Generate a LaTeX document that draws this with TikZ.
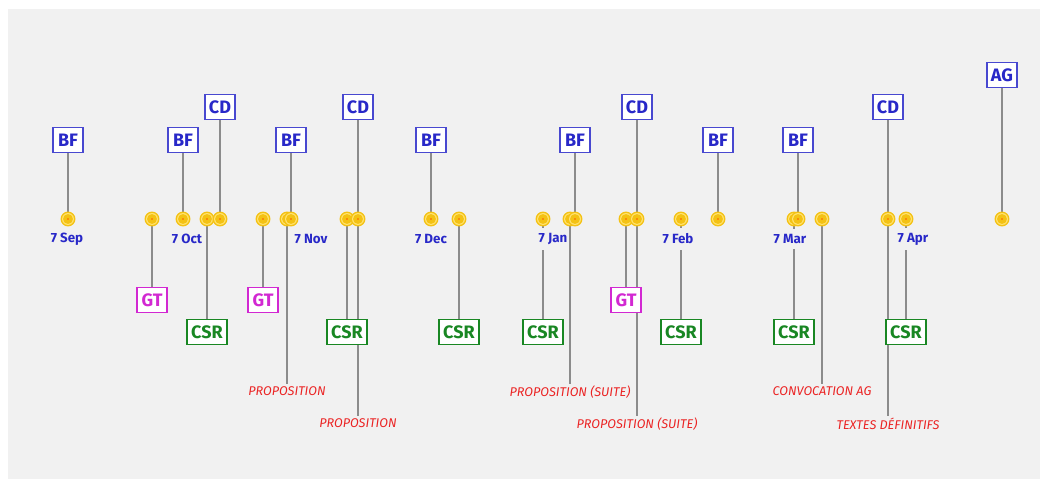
\documentclass[tikz,border=0pt]{standalone}
\usepackage{fontspec}
\setmainfont{Fira Sans}
\pgfdeclarelayer{panel}
\pgfdeclarelayer{wires}
\pgfsetlayers{panel,wires,main}

\definecolor{panelgray}{RGB}{241,241,241}
\definecolor{evblue}{RGB}{40,40,200}
\definecolor{evmag}{RGB}{210,40,210}
\definecolor{evgreen}{RGB}{25,135,35}
\definecolor{evred}{RGB}{235,35,35}
\definecolor{evgold}{RGB}{244,194,20}
\definecolor{evring}{RGB}{255,226,110}
\definecolor{wiregray}{RGB}{140,140,140}

\tikzset{every picture/.style={line width=0.75pt}}
\tikzset{
  evbox/.style={draw, fill=white, line width=0.9pt, inner sep=0pt,
    minimum width=22.5pt, minimum height=19pt,
    font=\bfseries\fontsize{13.5}{15}\selectfont},
  bluebox/.style={evbox, draw=evblue!85, text=evblue},
  gtbox/.style={evbox, draw=evmag, text=evmag},
  csrbox/.style={evbox, draw=evgreen, text=evgreen, minimum width=30pt},
  datelbl/.style={fill=panelgray, inner xsep=0.3pt, inner ysep=4pt, text=evblue,
    font=\bfseries\fontsize{10}{11}\selectfont},
  redlbl/.style={anchor=north, inner sep=1.5pt, text=evred,
    font=\itshape\fontsize{9.5}{10}\selectfont},
  wire/.style={draw=wiregray, line width=1.1pt},
  evdot/.pic={
    \fill[evgold] (0,0) circle (5.6pt);
    \fill[evring] (0,0) circle (4.5pt);
    \fill[evgold] (0,0) circle (3.7pt);
    \fill[orange!70!red] (0,0) circle (0.6pt);
  }
}

\begin{document}
\begin{tikzpicture}[x=0.75pt,y=0.75pt,yscale=-1,xscale=1]
	\useasboundingbox (0,0) rectangle (1047,488);
	\begin{pgfonlayer}{panel}
		\fill[panelgray] (8,9) rectangle (1040,479);
	\end{pgfonlayer}
	
	% points on the time line
	\coordinate (sep) at (68,219);
	\coordinate (gt1) at (152,219);
	\coordinate (oct) at (183,219);
	\coordinate (csr1) at (207,219);
	\coordinate (cd1) at (220,219);
	\coordinate (gt2) at (263,219);
	\coordinate (prop1) at (287,219);
	\coordinate (bf3) at (291,219);
	\coordinate (csr2) at (347,219);
	\coordinate (cd2) at (358,219);
	\coordinate (dec) at (431,219);
	\coordinate (csr3) at (459,219);
	\coordinate (jan) at (543,219);
	\coordinate (prop3) at (570,219);
	\coordinate (bf5) at (575,219);
	\coordinate (gt3) at (626,219);
	\coordinate (cd3) at (637,219);
	\coordinate (feb) at (681,219);
	\coordinate (bf6) at (718,219);
	\coordinate (csr6) at (794,219);
	\coordinate (bf7) at (798,219);
	\coordinate (conv) at (822,219);
	\coordinate (cd4) at (888,219);
	\coordinate (apr) at (906,219);
	\coordinate (ag) at (1002,219);
	
	% boxes above
	\node[bluebox] (bfa) at (68,140) {BF};
	\node[bluebox] (bfb) at (183,140) {BF};
	\node[bluebox] (cda) at (220,107) {CD};
	\node[bluebox] (bfc) at (291,140) {BF};
	\node[bluebox] (cdb) at (358,107) {CD};
	\node[bluebox] (bfd) at (431,140) {BF};
	\node[bluebox] (bfe) at (575,140) {BF};
	\node[bluebox] (cdc) at (637,107) {CD};
	\node[bluebox] (bff) at (718,140) {BF};
	\node[bluebox] (bfg) at (798,140) {BF};
	\node[bluebox] (cdd) at (888,107) {CD};
	\node[bluebox] (aga) at (1002,75) {AG};
	
	% boxes below
	\node[gtbox] (gta) at (152,300) {GT};
	\node[gtbox] (gtb) at (263,300) {GT};
	\node[gtbox] (gtc) at (626,300) {GT};
	\node[csrbox] (csra) at (207,332) {CSR};
	\node[csrbox] (csrb) at (347,332) {CSR};
	\node[csrbox] (csrc) at (459,332) {CSR};
	\node[csrbox] (csrd) at (543,332) {CSR};
	\node[csrbox] (csre) at (681,332) {CSR};
	\node[csrbox] (csrf) at (794,332) {CSR};
	\node[csrbox] (csrg) at (906,332) {CSR};
	
	% documents
	\node[redlbl] (propa) at (287,384) {PROPOSITION};
	\node[redlbl] (propb) at (358,416) {PROPOSITION};
	\node[redlbl] (propc) at (570,384) {PROPOSITION (SUITE)};
	\node[redlbl] (propd) at (637,416) {PROPOSITION (SUITE)};
	\node[redlbl] (conva) at (822,384) {CONVOCATION AG};
	\node[redlbl] (textes) at (888,416) {TEXTES DÉFINITIFS};
	
	\begin{pgfonlayer}{wires}
		%lines up
		\draw[wire] (bfa) -- (sep);
		\draw[wire] (bfb) -- (oct);
		\draw[wire] (cda) -- (cd1);
		\draw[wire] (bfc) -- (bf3);
		\draw[wire] (cdb) -- (cd2);
		\draw[wire] (bfd) -- (dec);
		\draw[wire] (bfe) -- (bf5);
		\draw[wire] (cdc) -- (cd3);
		\draw[wire] (bff) -- (bf6);
		\draw[wire] (bfg) -- (bf7);
		\draw[wire] (cdd) -- (cd4);
		\draw[wire] (aga) -- (ag);
		%lines down
		\draw[wire] (gt1) -- (gta);
		\draw[wire] (gt2) -- (gtb);
		\draw[wire] (gt3) -- (gtc);
		\draw[wire] (csr1) -- (csra);
		\draw[wire] (csr2) -- (csrb);
		\draw[wire] (csr3) -- (csrc);
		\draw[wire] (jan) -- (csrd);
		\draw[wire] (feb) -- (csre);
		\draw[wire] (csr6) -- (csrf);
		\draw[wire] (apr) -- (csrg);
		\draw[wire] (prop1) -- (propa);
		\draw[wire] (cd2) -- (propb);
		\draw[wire] (prop3) -- (propc);
		\draw[wire] (cd3) -- (propd);
		\draw[wire] (conv) -- (conva);
		\draw[wire] (cd4) -- (textes);
	\end{pgfonlayer}
	
	% dots
	\foreach \d in {sep,gt1,oct,csr1,cd1,gt2,prop1,bf3,csr2,cd2,dec,csr3,jan,prop3,bf5,gt3,cd3,feb,bf6,csr6,bf7,conv,cd4,apr,ag}
		\pic at (\d) {evdot};
	
	% dates
	\node[datelbl] (dsep) at (67,239) {7 Sep};
	\node[datelbl] (doct) at (187,239) {7 Oct};
	\node[datelbl] (dnov) at (311,239) {7 Nov};
	\node[datelbl] (ddec) at (431,239) {7 Dec};
	\node[datelbl] (djan) at (553,239) {7 Jan};
	\node[datelbl] (dfeb) at (678,239) {7 Feb};
	\node[datelbl] (dmar) at (790,239) {7 Mar};
	\node[datelbl] (dapr) at (913,239) {7 Apr};
	
\end{tikzpicture}
\end{document}
